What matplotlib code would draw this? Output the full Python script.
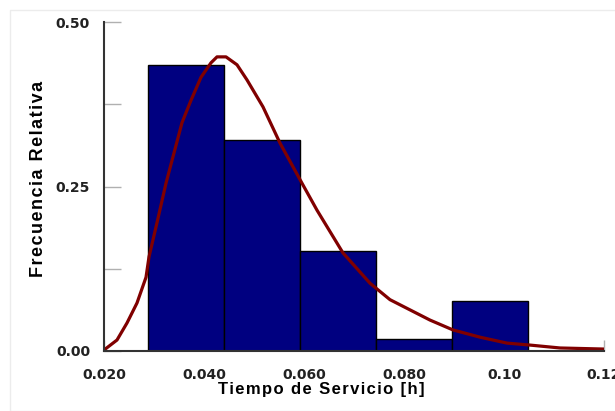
import matplotlib.pyplot as plt
import matplotlib.patches as mpatches
import numpy as np

# histogram of service times (relative frequency)
bin_edges = [0.0288, 0.0440, 0.0592, 0.0744, 0.0896, 0.1048]
rel_freq = [0.435, 0.320, 0.152, 0.018, 0.076]

# fitted density curve
curve_x = [0.0200, 0.0226, 0.0246, 0.0266, 0.0284, 0.0290, 0.0306, 0.0324, 0.0340,
           0.0356, 0.0374, 0.0394, 0.0414, 0.0426, 0.0444, 0.0466, 0.0486, 0.0518,
           0.0552, 0.0596, 0.0626, 0.0678, 0.0732, 0.0772, 0.0852, 0.0898, 0.0952,
           0.1006, 0.1052, 0.1112, 0.1198]
curve_y = [0.0015, 0.0167, 0.0426, 0.073, 0.112, 0.143, 0.195, 0.255, 0.301,
           0.347, 0.381, 0.416, 0.438, 0.447, 0.447, 0.435, 0.412, 0.371,
           0.316, 0.255, 0.214, 0.149, 0.103, 0.078, 0.047, 0.032, 0.021,
           0.012, 0.009, 0.0046, 0.003]

xticks = [0.02, 0.04, 0.06, 0.08, 0.10, 0.12]
xtick_labels = ['0.020', '0.040', '0.060', '0.080', '0.10', '0.12']
yticks = [0.0, 0.25, 0.50]
ytick_labels = ['0.00', '0.25', '0.50']


def spaced(s):
    # the original labels have a little extra letter spacing
    return '\u200a'.join(s)


fig = plt.figure(figsize=(6.15, 4.11), dpi=100)
fig.patches.append(mpatches.Rectangle((10/615, 0), 1, 1 - 10/411, transform=fig.transFigure,
                                      fill=False, edgecolor='#ececec', lw=1))
ax = fig.add_axes([104/615, 1 - 351/411, 500/615, 329/411])

widths = np.diff(bin_edges)
ax.bar(bin_edges[:-1], rel_freq, width=widths, align='edge',
       color='#000080', edgecolor='black', linewidth=1, zorder=2)
ax.plot(curve_x, curve_y, color='#800000', lw=2.3, zorder=3, solid_joinstyle='round')

ax.set_xlim(0.02, 0.12)
ax.set_ylim(0, 0.5)
ax.set_xticks(xticks)
ax.set_xticklabels(xtick_labels)
ax.set_yticks(yticks)
ax.set_yticklabels(ytick_labels)
ax.set_yticks([0.125, 0.375], minor=True)

ax.tick_params(axis='y', which='both', direction='in', length=12, width=1,
               color='#b0b0b0', pad=10, labelsize=10)
ax.tick_params(axis='x', which='both', direction='in', length=8, width=1,
               color='#b0b0b0', pad=12, labelsize=10)
for lab in ax.get_xticklabels() + ax.get_yticklabels():
    lab.set_fontweight('bold')
    lab.set_fontfamily('DejaVu Sans')
    lab.set_color('#222222')

for s in ['top', 'right']:
    ax.spines[s].set_visible(False)
for s in ['left', 'bottom']:
    ax.spines[s].set_linewidth(1.5)
    ax.spines[s].set_color('#333333')
    ax.spines[s].set_zorder(4)

ax.set_xlabel(spaced('Tiempo de Servicio [h]'), fontsize=12, fontweight='bold',
              family=['Liberation Sans', 'DejaVu Sans'], va='top')
ax.set_ylabel(spaced('Frecuencia Relativa'), fontsize=13, fontweight='bold',
              family=['Liberation Sans', 'DejaVu Sans'])
ax.xaxis.set_label_coords(0.434, -0.095)
ax.yaxis.set_label_coords(-0.114, 0.524)

plt.savefig('out.png', dpi=100)
